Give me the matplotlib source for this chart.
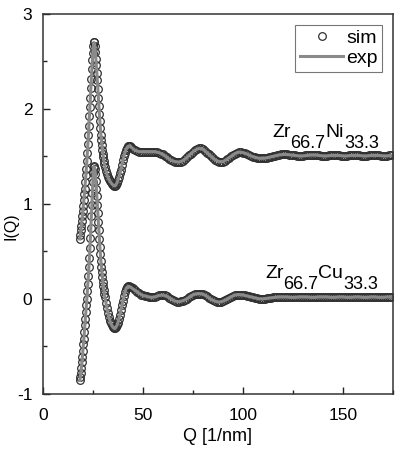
import numpy as np
import matplotlib
matplotlib.use("Agg")
import matplotlib.pyplot as plt
from matplotlib.ticker import MultipleLocator

plt.rcParams['font.family'] = ['Liberation Sans', 'DejaVu Sans']
plt.rcParams['axes.unicode_minus'] = False

# Q grid of the simulated points (1/nm)
q_sim = np.concatenate([np.arange(18.5, 31.01, 0.25), np.arange(31.5, 44.01, 0.5),
                        np.arange(45, 174.1, 1.0)])
# Q grid of the measured curves
q_exp = np.concatenate([np.arange(18.5, 44.01, 0.5), np.arange(46, 174.1, 2.0)])

# Zr66.7Ni33.3 (shifted by +1.5)
sim_ni = [0.63, 0.67, 0.72, 0.77, 0.82, 0.87, 0.92, 0.98, 1.04, 1.10,
          1.16, 1.23, 1.30, 1.37, 1.45, 1.54, 1.63, 1.72, 1.82, 1.92,
          2.02, 2.12, 2.22, 2.32, 2.42, 2.51, 2.59, 2.66, 2.70, 2.70,
          2.66, 2.60, 2.53, 2.46, 2.38, 2.30, 2.21, 2.12, 2.03, 1.95,
          1.87, 1.80, 1.73, 1.67, 1.62, 1.57, 1.53, 1.49, 1.45, 1.42,
          1.39,
          1.35, 1.31, 1.28, 1.26, 1.24, 1.225, 1.21, 1.20, 1.19, 1.19,
          1.20, 1.22, 1.25, 1.28, 1.32, 1.36, 1.41, 1.46, 1.50, 1.54,
          1.57, 1.59, 1.605, 1.61, 1.61, 1.60,
          1.58, 1.565, 1.555, 1.55, 1.55, 1.55, 1.55, 1.55, 1.55, 1.55,
          1.55, 1.55, 1.545, 1.54, 1.53, 1.52, 1.505, 1.49, 1.475, 1.46,
          1.45, 1.445, 1.44, 1.44, 1.445, 1.455, 1.47, 1.49, 1.51, 1.53,
          1.55, 1.565, 1.58, 1.585, 1.585, 1.575, 1.56, 1.54, 1.52, 1.50,
          1.48, 1.465, 1.45, 1.445, 1.44, 1.445, 1.455, 1.47, 1.485, 1.50,
          1.515, 1.53, 1.54, 1.545, 1.545, 1.54, 1.535, 1.525, 1.515, 1.505,
          1.495, 1.49, 1.485, 1.48, 1.48, 1.48,
          1.48, 1.485, 1.49, 1.495, 1.50, 1.505, 1.51, 1.515, 1.52, 1.52,
          1.52, 1.52, 1.515, 1.515, 1.51, 1.51, 1.505, 1.505, 1.505, 1.505,
          1.51, 1.51, 1.515, 1.515, 1.515, 1.515, 1.51, 1.51, 1.505, 1.505,
          1.505, 1.505, 1.51, 1.51, 1.51, 1.51, 1.51, 1.51, 1.505, 1.505,
          1.505, 1.505, 1.51, 1.51, 1.51, 1.51, 1.51, 1.51, 1.505, 1.505,
          1.505, 1.505, 1.51, 1.51, 1.51, 1.51, 1.51, 1.51, 1.505, 1.505,
          1.505, 1.505, 1.51, 1.51]
exp_ni = [0.63, 0.72, 0.82, 0.92, 1.04, 1.16, 1.30, 1.45, 1.63, 1.82,
          2.02, 2.22, 2.42, 2.59, 2.70, 2.66, 2.53, 2.38, 2.21, 2.03,
          1.87, 1.73, 1.62, 1.53, 1.45, 1.39, 1.35, 1.31, 1.28, 1.26,
          1.24, 1.225, 1.21, 1.20, 1.19, 1.19, 1.20, 1.22, 1.25, 1.28,
          1.32, 1.36, 1.41, 1.46, 1.50, 1.54, 1.57, 1.59, 1.605, 1.61,
          1.61, 1.60,
          1.565, 1.55, 1.55, 1.55, 1.55, 1.55, 1.54, 1.52, 1.49, 1.46,
          1.445, 1.44, 1.455, 1.49, 1.53, 1.565, 1.585, 1.575, 1.54, 1.50,
          1.465, 1.445, 1.445, 1.47, 1.50, 1.53, 1.545, 1.54, 1.525, 1.505,
          1.49, 1.48, 1.48,
          1.485, 1.495, 1.505, 1.515, 1.52, 1.52, 1.515, 1.51, 1.505, 1.505,
          1.51, 1.515, 1.515, 1.51, 1.505, 1.505, 1.51, 1.51, 1.51, 1.505,
          1.505, 1.51, 1.51, 1.51, 1.505, 1.505, 1.51, 1.51, 1.51, 1.505,
          1.505, 1.51]

# Zr66.7Cu33.3
sim_cu = [-0.86, -0.82, -0.78, -0.73, -0.67, -0.61, -0.55, -0.48, -0.42, -0.35,
          -0.28, -0.21, -0.14, -0.07, 0.00, 0.08, 0.16, 0.24, 0.33, 0.43,
          0.53, 0.64, 0.75, 0.87, 0.99, 1.11, 1.23, 1.33, 1.39, 1.40,
          1.37, 1.31, 1.24, 1.16, 1.08, 0.99, 0.90, 0.81, 0.72, 0.63,
          0.55, 0.47, 0.40, 0.34, 0.28, 0.23, 0.18, 0.13, 0.09, 0.05,
          0.02,
          -0.04, -0.10, -0.15, -0.19, -0.23, -0.26, -0.28, -0.30, -0.31, -0.31,
          -0.30, -0.28, -0.25, -0.21, -0.17, -0.12, -0.07, -0.02, 0.03, 0.07,
          0.10, 0.12, 0.13, 0.13, 0.125, 0.12,
          0.11, 0.09, 0.075, 0.06, 0.045, 0.035, 0.03, 0.025, 0.02, 0.015,
          0.015, 0.02, 0.03, 0.035, 0.04, 0.04, 0.035, 0.025, 0.01, 0.0,
          -0.015, -0.025, -0.03, -0.03, -0.025, -0.02, -0.01, 0.0, 0.015, 0.03,
          0.04, 0.05, 0.055, 0.055, 0.055, 0.05, 0.04, 0.025, 0.01, -0.005,
          -0.015, -0.025, -0.03, -0.035, -0.03, -0.025, -0.015, -0.005, 0.01, 0.02,
          0.03, 0.04, 0.045, 0.045, 0.045, 0.04, 0.035, 0.03, 0.025, 0.02,
          0.015, 0.01, 0.005, 0.0, 0.0, 0.0,
          0.0, 0.005, 0.01, 0.01, 0.015, 0.015, 0.02, 0.02, 0.02, 0.02,
          0.02, 0.02, 0.015, 0.015, 0.015, 0.015, 0.02, 0.02, 0.02, 0.02,
          0.02, 0.02, 0.015, 0.015, 0.015, 0.015, 0.02, 0.02, 0.02, 0.02,
          0.02, 0.02, 0.015, 0.015, 0.015, 0.015, 0.02, 0.02, 0.02, 0.02,
          0.015, 0.015, 0.015, 0.015, 0.02, 0.02, 0.02, 0.02, 0.015, 0.015,
          0.015, 0.015, 0.02, 0.02, 0.02, 0.02, 0.015, 0.015, 0.015, 0.015,
          0.02, 0.02, 0.02, 0.02]
exp_cu = [-0.86, -0.78, -0.67, -0.55, -0.42, -0.28, -0.14, 0.00, 0.16, 0.33,
          0.53, 0.75, 0.99, 1.23, 1.39, 1.37, 1.24, 1.08, 0.90, 0.72,
          0.55, 0.40, 0.28, 0.18, 0.09, 0.02,
          -0.04, -0.10, -0.15, -0.19, -0.23, -0.26, -0.28, -0.30, -0.31, -0.31,
          -0.30, -0.28, -0.25, -0.21, -0.17, -0.12, -0.07, -0.02, 0.03, 0.07,
          0.10, 0.12, 0.13, 0.13, 0.125, 0.12,
          0.09, 0.06, 0.035, 0.025, 0.015, 0.02, 0.035, 0.04, 0.025, 0.0,
          -0.025, -0.03, -0.02, 0.0, 0.03, 0.05, 0.055, 0.05, 0.025, -0.005,
          -0.025, -0.035, -0.025, -0.005, 0.02, 0.04, 0.045, 0.04, 0.03, 0.02,
          0.01, 0.0, 0.0,
          0.005, 0.01, 0.015, 0.02, 0.02, 0.02, 0.015, 0.015, 0.02, 0.02,
          0.02, 0.015, 0.015, 0.02, 0.02, 0.02, 0.015, 0.015, 0.02, 0.02,
          0.015, 0.015, 0.02, 0.02, 0.015, 0.015, 0.02, 0.02, 0.015, 0.015,
          0.02, 0.02]

fig = plt.figure(figsize=(4.04, 4.5), dpi=100)
ax = fig.add_axes([0.106, 0.125, 0.867, 0.844])

sim_style = dict(ls='none', marker='o', ms=5.5, mfc='none', mec='#303030', mew=0.9)
ax.plot(q_sim, sim_ni, **sim_style, label='sim')
ax.plot(q_sim, sim_cu, **sim_style)
ax.plot(q_exp, exp_ni, color='#8a8a8a', lw=2.2, label='exp')
ax.plot(q_exp, exp_cu, color='#8a8a8a', lw=2.2)

ax.set_xlim(0, 175)
ax.set_ylim(-1, 3)
ax.xaxis.set_major_locator(MultipleLocator(50))
ax.xaxis.set_minor_locator(MultipleLocator(25))
ax.yaxis.set_major_locator(MultipleLocator(1))
ax.yaxis.set_minor_locator(MultipleLocator(0.5))
ax.tick_params(which='both', direction='in', top=False, right=False,
               labelsize=12.5, width=1, color='#222222')
ax.tick_params(which='major', length=5)
ax.tick_params(which='minor', length=3)
ax.tick_params(axis='x', pad=10)
ax.tick_params(axis='y', pad=7.5)
for s in ax.spines.values():
    s.set_linewidth(1.1)
    s.set_color('#333333')

ax.set_xlabel('Q [1/nm]', fontsize=13, labelpad=4)
ax.set_ylabel('I(Q)', fontsize=11.5)
ax.yaxis.set_label_coords(-0.07, 0.44)

leg = ax.legend(loc='upper right', fontsize=14, numpoints=1, handlelength=2.2,
                handletextpad=0.15, borderpad=0.25, labelspacing=0.1,
                borderaxespad=0.55, fancybox=False, framealpha=1)
leg.get_frame().set_edgecolor('#777777')
leg.get_frame().set_linewidth(0.8)


def chem_label(x, y, parts):
    # element symbols at normal height, counts dropped below baseline
    prev = ax.text(x, y, parts[0], fontsize=14, ha='left', va='baseline')
    drop = True
    for p in parts[1:]:
        dy = -8 if drop else 8
        prev = ax.annotate(p, xy=(1, 0), xycoords=prev, xytext=(0, dy),
                           textcoords='offset points', fontsize=14 if not drop else 13,
                           ha='left', va='bottom')
        drop = not drop


chem_label(114.5, 1.70, ['Zr', '66.7', 'Ni', '33.3'])
chem_label(111, 0.22, ['Zr', '66.7', 'Cu', '33.3'])

fig.savefig('out.png', dpi=100)
